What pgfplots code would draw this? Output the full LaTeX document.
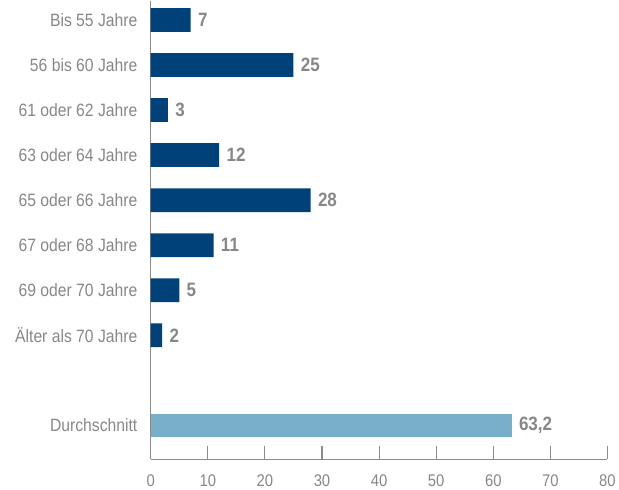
\documentclass[border=0pt]{standalone}
\usepackage{fontspec}
\setmainfont{Liberation Sans}[FakeStretch=0.88]
\usepackage{pgfplots}
\pgfplotsset{compat=1.18}
\definecolor{darkblue}{RGB}{0,65,122}
\definecolor{lightblue}{RGB}{122,175,203}
\definecolor{txtgray}{RGB}{135,135,135}
\definecolor{axgray}{RGB}{140,140,140}
\begin{document}
\begin{tikzpicture}
\begin{axis}[
  scale only axis,
  width=461pt, height=463pt,
  xmin=0, xmax=80,
  ymin=-0.43, ymax=9.75,
  y dir=reverse,
  axis x line*=bottom,
  axis y line*=left,
  axis line style={axgray, line width=1.1pt},
  xtick={0,10,...,80},
  ytick={0,1,2,3,4,5,6,7,9},
  yticklabels={Bis 55 Jahre,56 bis 60 Jahre,61 oder 62 Jahre,63 oder 64 Jahre,65 oder 66 Jahre,67 oder 68 Jahre,69 oder 70 Jahre,Älter als 70 Jahre,Durchschnitt},
  ytick style={draw=none},
  xtick style={axgray, line width=1.1pt},
  tick align=inside,
  major tick length=13pt,
  xticklabel style={font=\fontsize{17pt}{20pt}\selectfont, text=txtgray, yshift=-12pt},
  yticklabel style={font=\fontsize{18pt}{21pt}\selectfont, text=txtgray, xshift=3pt},
  /pgf/number format/assume math mode=true,
  xbar, bar width=24pt, bar shift=0pt,
  nodes near coords,
  point meta=explicit symbolic,
  every node near coord/.append style={font=\fontsize{19.5pt}{22pt}\selectfont\bfseries, text=txtgray, anchor=west, xshift=4pt},
  clip=false,
]
\addplot[fill=darkblue, draw=none] coordinates {
  (7,0) [7] (25,1) [25] (3,2) [3] (12,3) [12] (28,4) [28] (11,5) [11] (5,6) [5] (2,7) [2]
};
\addplot[fill=lightblue, draw=none] coordinates {(63.2,9) [{63,2}]};
\end{axis}
\path (current bounding box.south west) ++(-12pt,0);
\end{tikzpicture}
\end{document}
